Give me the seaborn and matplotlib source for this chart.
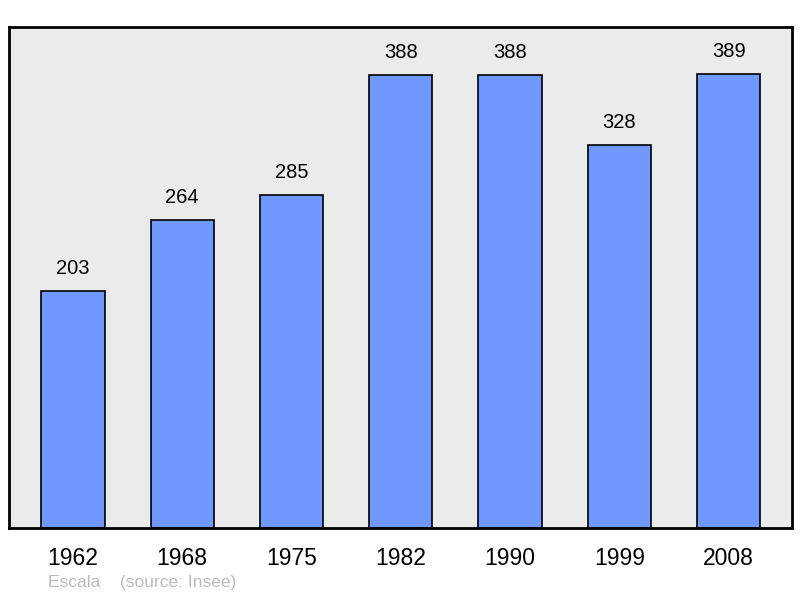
import matplotlib
matplotlib.use("Agg")
import matplotlib.pyplot as plt
import seaborn as sns
import pandas as pd

years = ["1962", "1968", "1975", "1982", "1990", "1999", "2008"]
population = [203, 264, 285, 388, 388, 328, 389]

sns.set_theme(style="white")
plt.rcParams['font.family'] = ['Liberation Sans', 'DejaVu Sans']

df = pd.DataFrame({"annee": years, "pop": population})

fig = plt.figure(figsize=(8, 5.98), dpi=100)
ax = fig.add_axes([9 / 800, 70 / 598, 783 / 800, 501 / 598])
ax.set_facecolor("#ebebeb")

sns.barplot(data=df, x="annee", y="pop", color="#7098ff", saturation=1,
            width=0.58, edgecolor="black", linewidth=1.2, ax=ax)

# valeurs au-dessus des barres
for i, v in enumerate(population):
    ax.text(i, v + 11, str(v), ha="center", va="bottom", fontsize=14.5, color="black")

ax.set_xlim(-0.585, 6.58)
ax.set_ylim(0, 429)
ax.set_yticks([])
ax.set_xlabel("")
ax.set_ylabel("")
ax.tick_params(axis="x", length=0, labelsize=16.5, pad=14, colors="black")
for s in ax.spines.values():
    s.set_color("black")
    s.set_linewidth(2)

fig.text(48 / 800, 1 - 583 / 598, "Escala    (source: Insee)", fontsize=12.5,
         color="#bbbbbb", ha="left", va="center")

fig.savefig("out.png", dpi=100)
